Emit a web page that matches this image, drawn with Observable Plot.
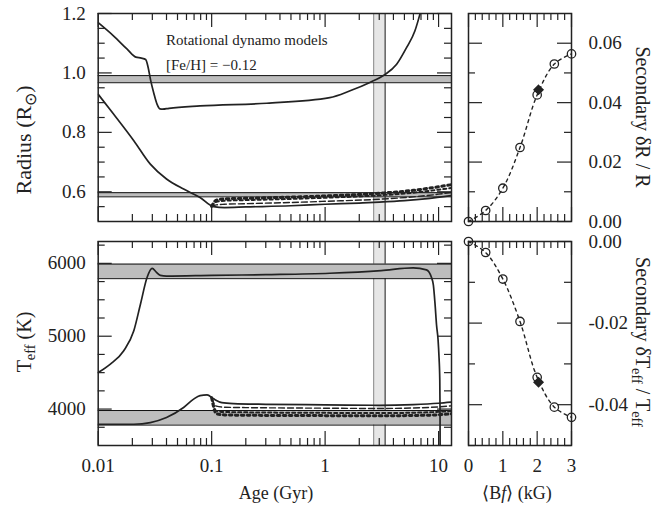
<!DOCTYPE html>
<html>
<head>
<meta charset="utf-8">
<script src="https://cdn.jsdelivr.net/npm/d3@7"></script>
<script src="https://cdn.jsdelivr.net/npm/@observablehq/plot@0.6"></script>
<style>
  body { margin: 0; background: white; }
  #chart { position: relative; width: 658px; height: 512px; background: white; }
  #chart svg { position: absolute; left: 0; top: 0; }
</style>
</head>
<body>
<div id="chart"></div>
<script>
// ---------------- data ----------------
// Primary radius vs age
const primRAge = [0.01, 0.0137, 0.018, 0.0215, 0.024, 0.0262, 0.0275, 0.029, 0.031, 0.033, 0.035, 0.037, 0.042, 0.079, 0.306, 1.1, 1.66, 2.48, 3.32, 4.27, 5.22, 6.18, 6.84, 7.2];
const primR    = [1.169, 1.124, 1.08, 1.053, 1.05, 1.045, 1.02, 0.975, 0.93, 0.895, 0.879, 0.878, 0.881, 0.889, 0.898, 0.917, 0.940, 0.968, 0.993, 1.029, 1.085, 1.141, 1.197, 1.23];
// Secondary radius, non-magnetic
const secRAge = [0.01, 0.0137, 0.0206, 0.0288, 0.04, 0.0566, 0.079, 0.104, 0.13, 0.2, 0.5, 1, 2, 3, 5, 8, 13];
const secR    = [0.928, 0.861, 0.772, 0.693, 0.643, 0.609, 0.581, 0.550, 0.547, 0.549, 0.553, 0.558, 0.562, 0.565, 0.570, 0.577, 0.587];
// Secondary radius, magnetic models
const magAge  = [0.1, 0.11, 0.13, 0.2, 0.5, 1, 3, 6, 10, 13];
const secR1kG = [0.551, 0.556, 0.558, 0.560, 0.564, 0.568, 0.575, 0.583, 0.592, 0.598];
const secR2kG = [0.551, 0.566, 0.570, 0.572, 0.576, 0.580, 0.588, 0.597, 0.607, 0.613];
const secR3kG = [0.551, 0.572, 0.576, 0.578, 0.582, 0.586, 0.595, 0.605, 0.617, 0.624];
// Primary Teff vs age
const primTAge = [0.01, 0.0128, 0.0168, 0.0206, 0.0236, 0.027, 0.0299, 0.0325, 0.0353, 0.04, 0.1, 0.3, 1.1, 3.12, 5.97, 7.82, 8.65, 9.0, 9.3, 9.6, 9.9, 10.1, 10.25, 10.3, 10.32];
const primT    = [4502, 4618, 4801, 5076, 5443, 5809, 5930, 5880, 5835, 5825, 5835, 5845, 5864, 5901, 5938, 5911, 5809, 5700, 5450, 5150, 4950, 4700, 4400, 4000, 3450];
// Secondary Teff, non-magnetic
const secTAge = [0.01, 0.0206, 0.0288, 0.04, 0.0566, 0.0693, 0.079, 0.091, 0.104, 0.123, 0.156, 0.3, 1, 3, 6, 10, 13];
const secT    = [3792, 3792, 3815, 3884, 4021, 4136, 4185, 4195, 4140, 4089, 4075, 4065, 4058, 4052, 4062, 4080, 4095];
// Secondary Teff, magnetic models
const secT1kG = [4155, 4040, 4025, 4020, 4015, 4012, 4008, 4015, 4030, 4045];
const secT2kG = [4155, 3975, 3960, 3955, 3950, 3948, 3945, 3950, 3962, 3975];
const secT3kG = [4155, 3935, 3920, 3915, 3912, 3910, 3908, 3912, 3922, 3935];
// Observed bands
const radiusBandPrim = [0.967, 0.991];
const radiusBandSec  = [0.583, 0.597];
const teffBandPrim   = [5790, 5990];
const teffBandSec    = [3780, 3980];
const ageBand        = [2.68, 3.38];
// Right panels: fractional change vs field strength
const bf      = [0, 0.5, 1, 1.5, 2, 2.5, 3];
const deltaR  = [0.0, 0.0037, 0.0112, 0.0249, 0.0426, 0.053, 0.0564];
const deltaT  = [0.0, -0.0027, -0.0092, -0.0196, -0.0333, -0.0406, -0.0431];
const diamondBf = [2.04];
const diamondDR = [0.0443];
const diamondDT = [-0.0345];
// Ticks and labels
const ageMajor = [0.01, 0.1, 1, 10];
const ageMinor = [2,3,4,5,6,7,8,9].flatMap(k => [0.01*k, 0.1*k, k]);
const ageLabels = ["0.01", "0.1", "1", "10"];
const radiusMajor = [0.6, 0.8, 1.0, 1.2];
const radiusMinor = [0.55, 0.65, 0.7, 0.75, 0.85, 0.9, 0.95, 1.05, 1.1, 1.15];
const teffMajor = [4000, 5000, 6000];
const teffMinor = [3750, 4250, 4500, 4750, 5250, 5500, 5750, 6250];
const bfMajor = [0, 1, 2, 3];
const bfMinor = [0.2,0.4,0.6,0.8,1.2,1.4,1.6,1.8,2.2,2.4,2.6,2.8];
const dRMajor = [0, 0.02, 0.04, 0.06];
const dRMinor = [0.01, 0.03, 0.05];
const dTMajor = [0, -0.02, -0.04];
const dTMinor = [-0.01, -0.03, -0.05];

// ---------------- layout ----------------
const W = 658, H = 512;
const INK = "#222";
const FONT = "'Liberation Serif', 'Times New Roman', serif";
const FS = 19;
const zip2 = (a, b) => a.map((v, i) => ({x: v, y: b[i]}));

function ticks(fw, fh, xMaj, xMin, yMaj, yMin) {
  const L = 14, S = 7, sw = 1.2;
  const m = [];
  for (const [vals, len] of [[xMaj, L], [xMin, S]]) {
    m.push(Plot.ruleX(vals, {insetTop: fh - len, stroke: INK, strokeWidth: sw}));
    m.push(Plot.ruleX(vals, {insetBottom: fh - len, stroke: INK, strokeWidth: sw}));
  }
  for (const [vals, len] of [[yMaj, L], [yMin, S]]) {
    m.push(Plot.ruleY(vals, {insetRight: fw - len, stroke: INK, strokeWidth: sw}));
    m.push(Plot.ruleY(vals, {insetLeft: fw - len, stroke: INK, strokeWidth: sw}));
  }
  return m;
}

function panel(f, x, y, marks) {
  return Plot.plot({
    width: W, height: H,
    marginLeft: f.l, marginRight: W - f.r, marginTop: f.t, marginBottom: H - f.b,
    x, y,
    style: {background: "transparent", fontFamily: FONT, fontSize: FS + "px", color: INK, overflow: "visible"},
    marks
  });
}

const fTL = {l: 97.7, r: 451, t: 13, b: 221};
const fTR = {l: 468, r: 571, t: 13, b: 221};
const fBL = {l: 97.7, r: 451, t: 241, b: 445};
const fBR = {l: 468, r: 571, t: 241, b: 445};
const fw = f => f.r - f.l, fh = f => f.b - f.t;

const lineBase = {x: "x", y: "y", stroke: INK, curve: "monotone-x", clip: true};
const styles = {
  s0: {strokeWidth: 1.7},
  s1: {strokeWidth: 1.4, strokeDasharray: "6,3"},
  s2: {strokeWidth: 2, strokeDasharray: "3,3"},
  s3: {strokeWidth: 3, strokeDasharray: "2.5,3.5"}
};

const ageBandMarks = [
  Plot.rect([ageBand], {x1: d => d[0], x2: d => d[1], fill: "#e6e6e6"}),
  Plot.ruleX([ageBand[0]], {stroke: "#888", strokeWidth: 1}),
  Plot.ruleX([ageBand[1]], {stroke: "#111", strokeWidth: 1})
];
const hBand = b => [
  Plot.rect([b], {y1: d => d[0], y2: d => d[1], fill: "#bdbdbd"}),
  Plot.ruleY(b, {stroke: "#111", strokeWidth: 1})
];

// Top-left: radius vs age
const tl = panel(fTL,
  {type: "log", domain: [0.01, 13], axis: null},
  {domain: [0.5, 1.2]},
  [
    ...ageBandMarks,
    ...hBand(radiusBandPrim),
    ...hBand(radiusBandSec),
    Plot.line(zip2(primRAge, primR), {...lineBase, ...styles.s0}),
    Plot.line(zip2(secRAge, secR), {...lineBase, ...styles.s0}),
    Plot.line(zip2(magAge, secR1kG), {...lineBase, ...styles.s1}),
    Plot.line(zip2(magAge, secR2kG), {...lineBase, ...styles.s2}),
    Plot.line(zip2(magAge, secR3kG), {...lineBase, ...styles.s3}),
    ...ticks(fw(fTL), fh(fTL), ageMajor, ageMinor, radiusMajor, radiusMinor),
    Plot.axisY({ticks: radiusMajor, tickSize: 0, tickPadding: 12.5, tickFormat: d => d.toFixed(1), label: null, fontSize: FS}),
    Plot.frame({stroke: INK, strokeWidth: 1.5})
  ]);

// Bottom-left: Teff vs age
const bl = panel(fBL,
  {type: "log", domain: [0.01, 13]},
  {domain: [3500, 6300]},
  [
    ...ageBandMarks,
    ...hBand(teffBandPrim),
    ...hBand(teffBandSec),
    Plot.line(zip2(primTAge, primT), {...lineBase, ...styles.s0}),
    Plot.line(zip2(secTAge, secT), {...lineBase, ...styles.s0}),
    Plot.line(zip2(magAge, secT1kG), {...lineBase, ...styles.s1}),
    Plot.line(zip2(magAge, secT2kG), {...lineBase, ...styles.s2}),
    Plot.line(zip2(magAge, secT3kG), {...lineBase, ...styles.s3}),
    ...ticks(fw(fBL), fh(fBL), ageMajor, ageMinor, teffMajor, teffMinor),
    Plot.axisY({ticks: teffMajor, tickSize: 0, tickPadding: 12.5, tickFormat: d => String(d), label: null, fontSize: FS}),
    Plot.axisX({ticks: ageMajor, tickSize: 0, tickPadding: 13, tickFormat: d => ageLabels[ageMajor.indexOf(d)], label: null, fontSize: FS}),
    Plot.frame({stroke: INK, strokeWidth: 1.5})
  ]);

// Top-right: δR/R vs <Bf>
const tr = panel(fTR,
  {domain: [0, 3], axis: null},
  {domain: [0, 0.07]},
  [
    ...ticks(fw(fTR), fh(fTR), bfMajor, bfMinor, dRMajor, dRMinor),
    Plot.line(zip2(bf, deltaR), {x: "x", y: "y", stroke: INK, strokeWidth: 1.4, strokeDasharray: "3,4", curve: "catmull-rom"}),
    Plot.dot(zip2(bf, deltaR), {x: "x", y: "y", r: 4.2, stroke: INK, strokeWidth: 1.3, fill: "none"}),
    Plot.dot(zip2(diamondBf, diamondDR), {x: "x", y: "y", symbol: "diamond2", r: 4, fill: INK, stroke: INK}),
    Plot.axisY({anchor: "right", ticks: dRMajor, tickSize: 0, tickPadding: 17, tickFormat: d => d.toFixed(2), label: null, fontSize: FS}),
    Plot.frame({stroke: INK, strokeWidth: 1.5})
  ]);

// Bottom-right: δTeff/Teff vs <Bf>
const br = panel(fBR,
  {domain: [0, 3]},
  {domain: [-0.05, 0]},
  [
    ...ticks(fw(fBR), fh(fBR), bfMajor, bfMinor, dTMajor, dTMinor),
    Plot.line(zip2(bf, deltaT), {x: "x", y: "y", stroke: INK, strokeWidth: 1.4, strokeDasharray: "3,4", curve: "catmull-rom"}),
    Plot.dot(zip2(bf, deltaT), {x: "x", y: "y", r: 4.2, stroke: INK, strokeWidth: 1.3, fill: "none"}),
    Plot.dot(zip2(diamondBf, diamondDT), {x: "x", y: "y", symbol: "diamond2", r: 4, fill: INK, stroke: INK}),
    Plot.axisY({anchor: "right", ticks: dTMajor, tickSize: 0, tickPadding: 17, tickFormat: d => d.toFixed(2), label: null, fontSize: FS}),
    Plot.axisX({ticks: bfMajor, tickSize: 0, tickPadding: 13, tickFormat: d => String(d), label: null, fontSize: FS}),
    Plot.frame({stroke: INK, strokeWidth: 1.5})
  ]);

const chart = document.getElementById("chart");
for (const p of [tl, bl, tr, br]) chart.appendChild(p);

// ---------------- titles & annotation ----------------
const svg = d3.select(chart).append("svg")
  .attr("width", W).attr("height", H)
  .style("font-family", FONT).style("fill", INK);

function title(x, y, rot, parts, size) {
  const t = svg.append("text")
    .attr("transform", `translate(${x},${y}) rotate(${rot})`)
    .attr("text-anchor", "middle").attr("font-size", size);
  for (const p of parts) {
    const s = t.append("tspan").text(p.t);
    if (p.sub) s.attr("font-size", size * 0.72).attr("baseline-shift", "-30%");
    if (p.it) s.attr("font-style", "italic");
  }
}
title(31, 140, -90, [{t: "Radius (R"}, {t: "\u2299", sub: true}, {t: ")"}], 22);
title(31, 342, -90, [{t: "T"}, {t: "eff", sub: true}, {t: " (K)"}], 20);
title(636, 117, 90, [{t: "Secondary \u03B4R / R"}], 20);
title(636, 342, 90, [{t: "Secondary \u03B4T"}, {t: "eff", sub: true}, {t: " / T"}, {t: "eff", sub: true}], 20);
title(276, 499, 0, [{t: "Age (Gyr)"}], 18);
title(517, 499, 0, [{t: "\u27E8B"}, {t: "f", it: true}, {t: "\u27E9 (kG)"}], 18);

svg.append("text").attr("x", 166).attr("y", 45).attr("font-size", 15).text("Rotational dynamo models");
svg.append("text").attr("x", 166).attr("y", 70).attr("font-size", 15).text("[Fe/H] = \u22120.12");
</script>
</body>
</html>
